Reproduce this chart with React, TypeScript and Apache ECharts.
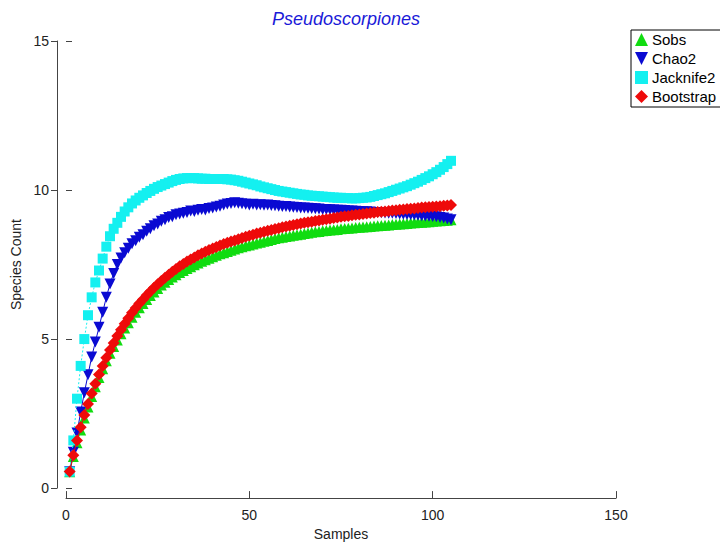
import React, { useEffect, useRef } from "react";
import * as echarts from "echarts";

const TITLE = "Pseudoscorpiones";
const X_NAME = "Samples";
const Y_NAME = "Species Count";
const SERIES_NAMES = ["Sobs", "Chao2", "Jacknife2", "Bootstrap"];

const sobs = [
  0.55, 1.06, 1.52, 1.95, 2.35, 2.72, 3.07, 3.4, 3.71, 4.0,
  4.27, 4.52, 4.75, 4.97, 5.18, 5.37, 5.55, 5.73, 5.9, 6.05,
  6.19, 6.33, 6.46, 6.58, 6.7, 6.81, 6.91, 7.0, 7.08, 7.16,
  7.23, 7.3, 7.37, 7.43, 7.49, 7.55, 7.61, 7.66, 7.71, 7.76,
  7.81, 7.86, 7.9, 7.94, 7.98, 8.02, 8.06, 8.1, 8.13, 8.16,
  8.19, 8.22, 8.25, 8.28, 8.31, 8.34, 8.37, 8.4, 8.42, 8.44,
  8.46, 8.48, 8.5, 8.52, 8.54, 8.56, 8.58, 8.6, 8.61, 8.63,
  8.64, 8.66, 8.67, 8.68, 8.7, 8.71, 8.72, 8.73, 8.74, 8.75,
  8.76, 8.77, 8.78, 8.79, 8.8, 8.81, 8.82, 8.83, 8.84, 8.85,
  8.86, 8.87, 8.88, 8.89, 8.9, 8.91, 8.92, 8.93, 8.94, 8.95,
  8.96, 8.97, 8.98, 8.99, 9.0,
];

const chao2 = [
  0.55, 1.2, 1.85, 2.55, 3.2, 3.8, 4.4, 4.9, 5.4, 5.9,
  6.4, 6.85, 7.2, 7.5, 7.72, 7.9, 8.05, 8.2, 8.3, 8.42,
  8.5, 8.62, 8.7, 8.8, 8.86, 8.95, 9.0, 9.08, 9.1, 9.17,
  9.2, 9.22, 9.25, 9.3, 9.28, 9.32, 9.35, 9.33, 9.38, 9.4,
  9.43, 9.46, 9.5, 9.53, 9.55, 9.57, 9.56, 9.54, 9.52, 9.5,
  9.52, 9.5, 9.51, 9.49, 9.5, 9.48, 9.47, 9.46, 9.45, 9.45,
  9.43, 9.42, 9.41, 9.4, 9.4, 9.39, 9.38, 9.37, 9.36, 9.35,
  9.35, 9.34, 9.33, 9.32, 9.32, 9.31, 9.3, 9.3, 9.29, 9.28,
  9.27, 9.27, 9.26, 9.25, 9.25, 9.24, 9.23, 9.22, 9.22, 9.21,
  9.2, 9.19, 9.18, 9.17, 9.16, 9.15, 9.14, 9.13, 9.12, 9.11,
  9.1, 9.08, 9.06, 9.03, 9.0,
];

const jacknife2 = [
  0.55, 1.6, 3.0, 4.1, 5.0, 5.8, 6.4, 6.9, 7.3, 7.7,
  8.1, 8.45, 8.7, 8.9, 9.1, 9.28, 9.42, 9.55, 9.65, 9.74,
  9.82, 9.9, 9.97, 10.04, 10.1, 10.15, 10.2, 10.25, 10.3, 10.34,
  10.37, 10.39, 10.4, 10.4, 10.4, 10.39, 10.38, 10.38, 10.37, 10.37,
  10.37, 10.37, 10.37, 10.36, 10.35, 10.33, 10.31, 10.28, 10.25, 10.22,
  10.19, 10.16, 10.12, 10.09, 10.06, 10.03, 10.0, 9.97, 9.95, 9.93,
  9.91, 9.89, 9.87, 9.85, 9.84, 9.82, 9.81, 9.8, 9.79, 9.78,
  9.77, 9.76, 9.75, 9.74, 9.74, 9.73, 9.73, 9.72, 9.72, 9.73,
  9.74, 9.75, 9.77, 9.8, 9.83, 9.86, 9.89, 9.93, 9.97, 10.01,
  10.05, 10.09, 10.13, 10.18, 10.23, 10.28, 10.34, 10.4, 10.46, 10.53,
  10.6, 10.68, 10.77, 10.87, 10.98,
];

const bootstrap = [
  0.56, 1.1, 1.6, 2.04, 2.45, 2.82, 3.17, 3.5, 3.81, 4.1,
  4.37, 4.63, 4.87, 5.1, 5.31, 5.51, 5.7, 5.88, 6.04, 6.19,
  6.33, 6.47, 6.6, 6.72, 6.84, 6.95, 7.06, 7.16, 7.26, 7.35,
  7.44, 7.52, 7.6, 7.67, 7.74, 7.81, 7.87, 7.93, 7.99, 8.04,
  8.09, 8.14, 8.19, 8.23, 8.27, 8.31, 8.35, 8.39, 8.43, 8.47,
  8.5, 8.54, 8.57, 8.6, 8.63, 8.66, 8.69, 8.72, 8.75, 8.78,
  8.8, 8.83, 8.85, 8.88, 8.9, 8.92, 8.94, 8.96, 8.98, 9.0,
  9.02, 9.04, 9.06, 9.08, 9.1, 9.12, 9.13, 9.15, 9.17, 9.18,
  9.2, 9.21, 9.23, 9.24, 9.26, 9.27, 9.28, 9.3, 9.31, 9.32,
  9.34, 9.35, 9.36, 9.37, 9.38, 9.4, 9.41, 9.42, 9.43, 9.44,
  9.45, 9.46, 9.47, 9.48, 9.5,
];

const X_MIN = 0;
const X_MAX = 150;
const X_INTERVAL = 50;
const Y_MIN = 0;
const Y_MAX = 15;
const Y_INTERVAL = 5;

const FONT = "'Liberation Sans', Arial, sans-serif";
const DOWN_TRI = "path://M0,0 L10,0 L5,10 Z";

const COLORS = ["#10dc10", "#0a0ad2", "#14f0f0", "#ee0a0a"];
const SYMBOLS = ["triangle", DOWN_TRI, "rect", "diamond"];

function toPoints(values: number[]) {
  return values.map((v, i) => [i + 1, v]);
}

export default function App() {
  const ref = useRef<HTMLDivElement>(null);

  useEffect(() => {
    if (!ref.current) return;
    const chart = echarts.init(ref.current, undefined, { renderer: "svg" });
    const allValues = [sobs, chao2, jacknife2, bootstrap];
    const symbolSizes = [11, 11, 10, 12];
    const lineTypes: any[] = ["solid", "solid", [2, 2], "solid"];

    const option: any = {
      animation: false,
      backgroundColor: "#ffffff",
      textStyle: { fontFamily: FONT },
      title: {
        text: TITLE,
        left: 341,
        textAlign: "center",
        top: 5,
        textStyle: {
          fontFamily: FONT,
          fontSize: 18,
          fontStyle: "italic",
          fontWeight: "normal",
          color: "#1a1ad8",
        },
      },
      legend: {
        orient: "vertical",
        left: 631,
        top: 30,
        width: 88,
        itemWidth: 13,
        itemHeight: 13,
        itemGap: 4,
        padding: [2, 6, 3, 4],
        borderColor: "#000000",
        borderWidth: 1,
        backgroundColor: "#ffffff",
        textStyle: { fontFamily: FONT, fontSize: 15, color: "#000000", padding: [0, 0, 0, -1] },
        data: SERIES_NAMES.map((n, i) => ({ name: n, icon: SYMBOLS[i] })),
      },
      grid: { left: 66, right: 104, top: 41, bottom: 56, containLabel: false },
      xAxis: {
        type: "value",
        min: X_MIN,
        max: X_MAX,
        interval: X_INTERVAL,
        offset: 10,
        name: X_NAME,
        nameLocation: "middle",
        nameGap: 27,
        nameTextStyle: { fontFamily: FONT, fontSize: 14, color: "#222222" },
        axisLine: { show: true, onZero: false, lineStyle: { color: "#444444", width: 1 } },
        axisTick: { show: true, inside: true, length: 7, lineStyle: { color: "#444444" } },
        axisLabel: { fontFamily: FONT, fontSize: 14, color: "#222222", margin: 10 },
        splitLine: { show: false },
      },
      yAxis: [
        {
          type: "value",
          min: Y_MIN,
          max: Y_MAX,
          interval: Y_INTERVAL,
          offset: 9,
          name: Y_NAME,
          nameLocation: "middle",
          nameGap: 33,
          nameTextStyle: { fontFamily: FONT, fontSize: 14, color: "#222222" },
          axisLine: { show: true, onZero: false, lineStyle: { color: "#444444", width: 1 } },
          axisTick: { show: true, inside: false, length: 6, lineStyle: { color: "#444444" } },
          axisLabel: { fontFamily: FONT, fontSize: 14, color: "#222222", margin: 8 },
          splitLine: { show: false },
        },
        {
          type: "value",
          min: Y_MIN,
          max: Y_MAX,
          interval: Y_INTERVAL,
          position: "left",
          offset: 9,
          axisLine: { show: false },
          axisTick: { show: true, inside: true, length: 6, lineStyle: { color: "#444444" } },
          axisLabel: { show: false },
          splitLine: { show: false },
        },
      ],
      series: SERIES_NAMES.map((n, i) => ({
        name: n,
        type: "line",
        data: toPoints(allValues[i]),
        symbol: SYMBOLS[i],
        symbolSize: symbolSizes[i],
        showAllSymbol: true,
        color: COLORS[i],
        itemStyle: { color: COLORS[i] },
        lineStyle: { color: COLORS[i], width: 1, type: lineTypes[i] },
        z: 2 + i,
        silent: true,
      })),
    };

    chart.setOption(option);
    return () => chart.dispose();
  }, []);

  return (
    <div
      ref={ref}
      style={{ position: "absolute", left: 0, top: 0, width: 720, height: 546 }}
    />
  );
}
